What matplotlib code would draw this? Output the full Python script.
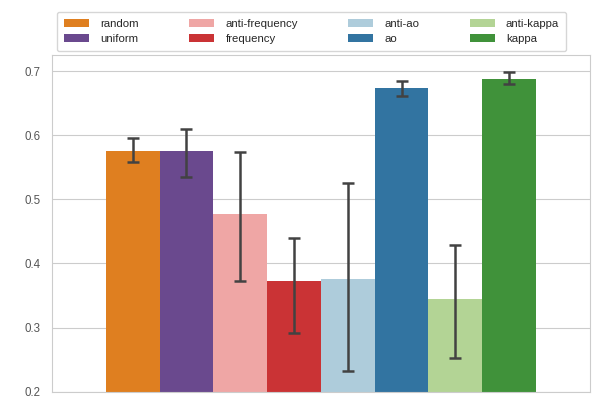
import numpy as np
import matplotlib
matplotlib.use("Agg")
import matplotlib.pyplot as plt
import seaborn as sns

# Mean score per sampling strategy with error bar bounds
strategies = ["random", "uniform", "anti-frequency", "frequency",
              "anti-ao", "ao", "anti-kappa", "kappa"]
means = [0.576, 0.575, 0.477, 0.372, 0.376, 0.674, 0.344, 0.688]
err_low = [0.558, 0.535, 0.373, 0.292, 0.232, 0.661, 0.252, 0.680]
err_high = [0.595, 0.609, 0.573, 0.440, 0.526, 0.685, 0.429, 0.698]

sns.set_style("whitegrid")
plt.rcParams["font.family"] = ["Liberation Sans", "DejaVu Sans"]

# Paired palette, desaturated like seaborn barplot does
paired = sns.color_palette("Paired")
palette = [paired[7], paired[9], paired[4], paired[5],
           paired[0], paired[1], paired[2], paired[3]]
palette = [sns.desaturate(c, 0.75) for c in palette]

fig = plt.figure(figsize=(5.94, 4.03), dpi=100)
ax = fig.add_axes([0.0875, 0.028, 0.9055, 0.8355])

n = len(strategies)
width = 0.8 / n
offsets = -0.4 + width / 2 + width * np.arange(n)
means = np.array(means)
yerr = np.array([means - np.array(err_low), np.array(err_high) - means])

for i in range(n):
    ax.bar(offsets[i], means[i] - 0.2, width=width, bottom=0.2,
           color=palette[i], label=strategies[i], linewidth=0)
ax.errorbar(offsets, means, yerr=yerr, fmt="none", ecolor="#424242",
            elinewidth=1.8, capsize=4.6, capthick=1.8)

ax.set_xlim(-0.5, 0.5)
ax.set_ylim(0.2, 0.725)
ax.set_yticks([0.2, 0.3, 0.4, 0.5, 0.6, 0.7])
ax.set_xticks([])
ax.grid(axis="x", visible=False)
ax.tick_params(axis="y", labelsize=8.3, colors="#555555", pad=5)
for s in ax.spines.values():
    s.set_color("#cccccc")

fig.legend(loc="upper center", bbox_to_anchor=(311.5 / 594, 1 - 6 / 403),
           ncol=4, fontsize=8.2, frameon=True, edgecolor="#cccccc",
           handlelength=2.2, handletextpad=1.0, columnspacing=4.4,
           borderpad=0.6)

fig.savefig("out.png", dpi=100)
